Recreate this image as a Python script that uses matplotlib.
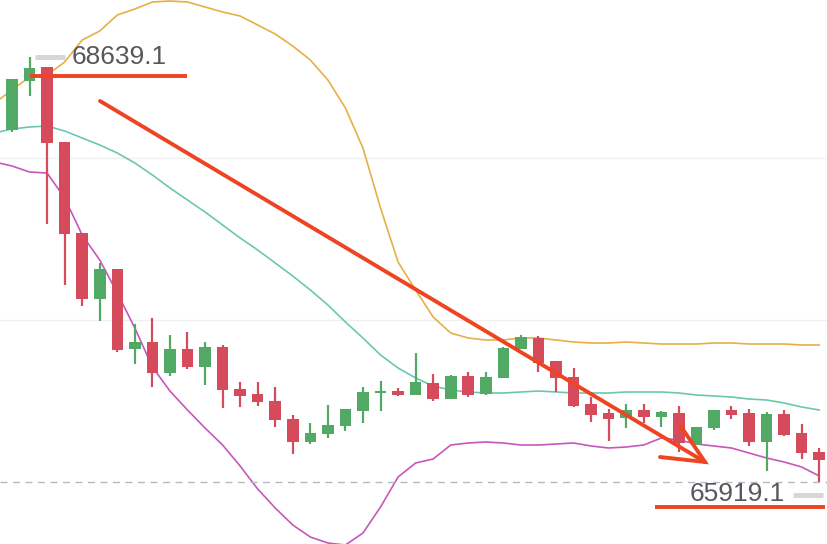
import numpy as np
import matplotlib
matplotlib.use("Agg")
import matplotlib.pyplot as plt

# candle data (price), one entry per candle
opens = [68172.0, 68485.6, 68575.2, 68095.2, 67512.8, 67090.4, 67282.4, 66770.4, 66815.2, 66616.8,
         66770.4, 66655.2, 66783.2, 66514.4, 66482.4, 66437.6, 66322.4, 66175.2, 66226.4, 66277.6,
         66373.6, 66488.8, 66501.6, 66476.0, 66552.8, 66450.4, 66597.6, 66482.4, 66584.8, 66770.4,
         66840.8, 66693.6, 66591.2, 66418.4, 66360.8, 66328.8, 66380.0, 66335.2, 66360.8, 66156.0,
         66264.8, 66380.0, 66360.8, 66175.2, 66354.4, 66232.8, 66111.2]
closes = [68498.4, 68568.8, 68088.8, 67506.4, 67090.4, 67282.4, 66764.0, 66815.2, 66616.8, 66770.4,
          66655.2, 66783.2, 66508.0, 66469.6, 66431.2, 66316.0, 66175.2, 66232.8, 66284.0, 66386.4,
          66495.2, 66495.2, 66476.0, 66559.2, 66450.4, 66597.6, 66476.0, 66591.2, 66776.8, 66847.2,
          66680.8, 66584.8, 66405.6, 66348.0, 66322.4, 66380.0, 66335.2, 66367.2, 66168.8, 66271.2,
          66380.0, 66348.0, 66175.2, 66354.4, 66220.0, 66104.8, 66060.0]
highs = [68498.4, 68639.1, 68575.2, 68095.2, 67512.8, 67320.8, 67282.4, 66930.4, 66968.8, 66860.0,
         66879.2, 66815.2, 66796.0, 66559.2, 66559.2, 66527.2, 66348.0, 66296.8, 66412.0, 66386.4,
         66527.2, 66565.6, 66520.8, 66744.8, 66610.4, 66604.0, 66623.2, 66623.2, 66783.2, 66860.0,
         66853.6, 66693.6, 66648.8, 66463.2, 66386.4, 66418.4, 66418.4, 66373.6, 66405.6, 66271.2,
         66380.0, 66405.6, 66386.4, 66367.2, 66380.0, 66290.4, 66136.8]
lows = [68159.2, 68389.6, 67570.4, 67180.0, 67045.6, 66949.6, 66751.2, 66674.4, 66527.2, 66597.6,
        66642.4, 66540.0, 66392.8, 66399.2, 66405.6, 66271.2, 66098.4, 66162.4, 66200.8, 66245.6,
        66296.8, 66373.6, 66469.6, 66476.0, 66437.6, 66450.4, 66463.2, 66476.0, 66584.8, 66770.4,
        66623.2, 66495.2, 66399.2, 66303.2, 66181.6, 66264.8, 66296.8, 66271.2, 66111.2, 66156.0,
        66252.0, 66322.4, 66149.6, 65989.6, 66213.6, 66066.4, 65919.1]

# bollinger bands, starting one candle before the first visible one
boll_upper = [68344.8, 68428.0, 68511.2, 68524.0, 68607.2, 68748.0, 68805.6, 68908.0, 68946.4, 68991.2,
              68997.6, 68991.2, 68959.2, 68927.2, 68901.6, 68844.0, 68786.4, 68709.6, 68620.0, 68492.0,
              68312.8, 68056.8, 67672.8, 67327.2, 67148.0, 66975.2, 66872.8, 66840.8, 66828.0, 66828.0,
              66840.8, 66840.8, 66828.0, 66815.2, 66808.8, 66808.8, 66815.2, 66808.8, 66802.4, 66802.4,
              66802.4, 66808.8, 66808.8, 66802.4, 66802.4, 66802.4, 66796.0, 66796.0]
boll_mid = [68152.8, 68178.4, 68191.2, 68197.6, 68165.6, 68120.8, 68076.0, 68024.8, 67960.8, 67884.0,
            67800.8, 67724.0, 67647.2, 67564.0, 67480.8, 67404.0, 67320.8, 67237.6, 67148.0, 67052.0,
            66943.2, 66840.8, 66732.0, 66648.8, 66584.8, 66533.6, 66508.0, 66495.2, 66488.8, 66488.8,
            66495.2, 66501.6, 66495.2, 66488.8, 66488.8, 66488.8, 66495.2, 66495.2, 66495.2, 66488.8,
            66476.0, 66469.6, 66463.2, 66450.4, 66444.0, 66424.8, 66399.2, 66380.0]
boll_lower = [67967.2, 67941.6, 67903.2, 67896.8, 67736.8, 67500.0, 67340.0, 67128.8, 66904.8, 66655.2,
              66501.6, 66380.0, 66264.8, 66156.0, 66021.6, 65874.4, 65752.8, 65644.0, 65567.2, 65528.8,
              65516.0, 65592.8, 65759.2, 65951.2, 66040.8, 66066.4, 66156.0, 66168.8, 66175.2, 66168.8,
              66156.0, 66156.0, 66162.4, 66168.8, 66149.6, 66136.8, 66143.2, 66156.0, 66200.8, 66188.0,
              66162.4, 66149.6, 66136.8, 66104.8, 66072.8, 66047.2, 66015.2, 65957.6]

grid_levels = [67993.0, 66956.0]

UP = '#52a965'
DOWN = '#d64b5b'
MARK = '#ee4422'

fig = plt.figure(figsize=(8.28, 5.44), dpi=100)
ax = fig.add_axes([0, 0, 1, 1])
ax.set_axis_off()

n = len(opens)
x = np.arange(n)
xb = np.arange(-1, n)

for g in grid_levels:
    ax.axhline(g, color='#efefef', lw=0.9, zorder=0)

# bands
ax.plot(xb, boll_upper, color='#e6b043', lw=1.2, zorder=1)
ax.plot(xb, boll_mid, color='#6cc7ae', lw=1.2, zorder=1)
ax.plot(xb, boll_lower, color='#c857bb', lw=1.2, zorder=1)

# candles
for i in range(n):
    o, c, h, l = opens[i], closes[i], highs[i], lows[i]
    col = UP if c >= o else DOWN
    ax.vlines(x[i], l, h, color=col, lw=1.6, zorder=2)
    body = max(abs(c - o), 16)
    ax.bar(x[i], body, bottom=min(o, c), width=0.66, color=col, zorder=3)

# last-price dashed line
ax.axhline(min(lows), color='#b8b8c4', lw=1.0, ls=(0, (5, 4)), zorder=1)

ax.set_xlim(-0.684, 46.5)
ax.set_ylim(65522.4, 69004.0)

# overlays in pixel-ish fractions of the figure
W, H = 828.0, 544.0
def fx(px):
    return px / W
def fy(py):
    return 1 - py / H

hi_txt = f"{max(highs):.1f}"
lo_txt = f"{min(lows):.1f}"
lbl_font = dict(fontsize=19, color='#58585c', family='Liberation Sans')

ax.plot([fx(35), fx(65)], [fy(57), fy(57)], transform=ax.transAxes, color='#d6d6d6', lw=3.5,
        solid_capstyle='butt', zorder=4)
ax.text(fx(72), fy(57), hi_txt, transform=ax.transAxes, va='center', ha='left', zorder=5, **lbl_font)
ax.plot([fx(30), fx(187)], [fy(76), fy(76)], transform=ax.transAxes, color=MARK, lw=2.8,
        solid_capstyle='butt', zorder=6)

ax.plot([fx(793), fx(823)], [fy(495), fy(495)], transform=ax.transAxes, color='#d6d6d6', lw=3.5,
        solid_capstyle='butt', zorder=4)
ax.text(fx(785), fy(494), lo_txt, transform=ax.transAxes, va='center', ha='right', zorder=5, **lbl_font)
ax.plot([fx(655), fx(825)], [fy(507), fy(507)], transform=ax.transAxes, color=MARK, lw=2.8,
        solid_capstyle='butt', zorder=6)

# hand-drawn trend arrow
ax.plot([fx(100), fx(705)], [fy(101), fy(462)], transform=ax.transAxes, color=MARK, lw=2.8,
        solid_capstyle='round', zorder=6)
ax.plot([fx(660), fx(705), fx(680)], [fy(457), fy(462), fy(425)], transform=ax.transAxes,
        color=MARK, lw=2.8, solid_joinstyle='miter', solid_capstyle='round', zorder=6)

fig.savefig('out.png', dpi=100)
